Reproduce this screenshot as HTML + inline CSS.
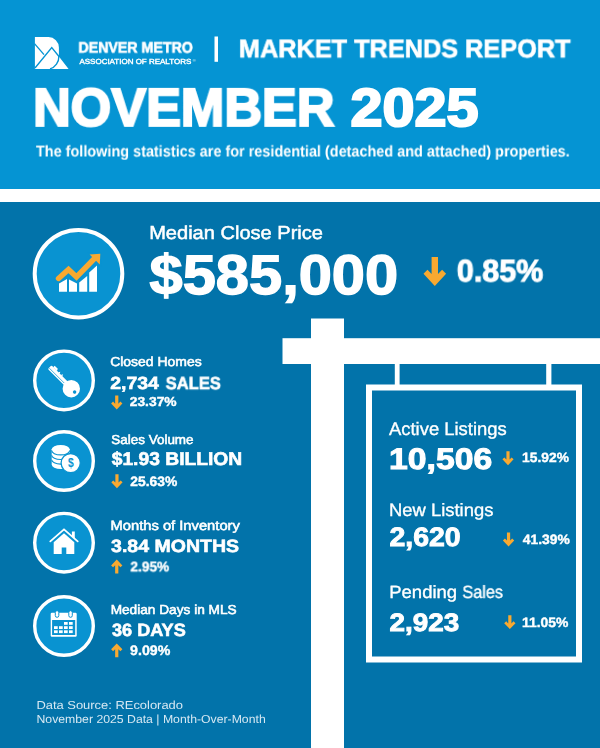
<!DOCTYPE html>
<html><head><meta charset="utf-8"><title>Market Trends Report</title>
<style>
html,body{margin:0;padding:0;}
body{width:600px;height:748px;position:relative;overflow:hidden;background:#0273aa;font-family:"Liberation Sans",sans-serif;}
.hdr{position:absolute;left:0;top:0;width:600px;height:189px;background:#0594d3;}
.band{position:absolute;left:0;top:189px;width:600px;height:13px;background:#fff;}
svg{position:absolute;left:0;top:0;}
.t{position:absolute;left:0;top:0;white-space:nowrap;line-height:1;color:#fff;transform-origin:0 0;will-change:transform;text-rendering:geometricPrecision;}
</style></head><body>
<div class="hdr"></div><div class="band"></div>
<svg width="600" height="748" viewBox="0 0 600 748">
<rect x="311" y="318.5" width="33" height="430" fill="#fff"/>
<rect x="282.5" y="338.2" width="318" height="25.8" fill="#fff"/>
<rect x="394.8" y="363" width="4.8" height="23" fill="#fff"/>
<rect x="546.2" y="363" width="5.2" height="23" fill="#fff"/>
<rect x="369" y="387.5" width="210" height="272" fill="none" stroke="#fff" stroke-width="6"/>
<circle cx="78.5" cy="273.7" r="43.8" fill="#0993d1" stroke="#fff" stroke-width="4.0"/>
<circle cx="64" cy="380.4" r="29.3" fill="#0993d1" stroke="#fff" stroke-width="3.4"/>
<circle cx="64" cy="461" r="29.3" fill="#0993d1" stroke="#fff" stroke-width="3.4"/>
<circle cx="64" cy="542.7" r="29.3" fill="#0993d1" stroke="#fff" stroke-width="3.4"/>
<circle cx="64" cy="626" r="29.3" fill="#0993d1" stroke="#fff" stroke-width="3.4"/>
<polygon transform="translate(423.30,257.00) scale(1.0000,1.0000)" points="8.3,0 14.7,0 14.7,17 18.8,12.7 22.8,16.7 11.5,29 0.2,16.7 4.2,12.7 8.3,17" fill="#f9a930"/>
<polygon transform="translate(111.00,395.50) scale(0.5000,0.4793)" points="8.3,0 14.7,0 14.7,17 18.8,12.7 22.8,16.7 11.5,29 0.2,16.7 4.2,12.7 8.3,17" fill="#f9a930"/>
<polygon transform="translate(111.20,474.30) scale(0.5000,0.4793)" points="8.3,0 14.7,0 14.7,17 18.8,12.7 22.8,16.7 11.5,29 0.2,16.7 4.2,12.7 8.3,17" fill="#f9a930"/>
<polygon transform="translate(111.00,573.40) scale(0.5000,-0.4759)" points="8.3,0 14.7,0 14.7,17 18.8,12.7 22.8,16.7 11.5,29 0.2,16.7 4.2,12.7 8.3,17" fill="#f9a930"/>
<polygon transform="translate(111.00,657.20) scale(0.5000,-0.4724)" points="8.3,0 14.7,0 14.7,17 18.8,12.7 22.8,16.7 11.5,29 0.2,16.7 4.2,12.7 8.3,17" fill="#f9a930"/>
<polygon transform="translate(502.30,451.30) scale(0.4957,0.4828)" points="8.3,0 14.7,0 14.7,17 18.8,12.7 22.8,16.7 11.5,29 0.2,16.7 4.2,12.7 8.3,17" fill="#f9a930"/>
<polygon transform="translate(502.80,532.40) scale(0.5000,0.4828)" points="8.3,0 14.7,0 14.7,17 18.8,12.7 22.8,16.7 11.5,29 0.2,16.7 4.2,12.7 8.3,17" fill="#f9a930"/>
<polygon transform="translate(504.10,615.30) scale(0.5000,0.4759)" points="8.3,0 14.7,0 14.7,17 18.8,12.7 22.8,16.7 11.5,29 0.2,16.7 4.2,12.7 8.3,17" fill="#f9a930"/>
<path d="M34.9,37.1H48.5A10.4,10.4 0 0 1 58.9,47.5V56.5L68.6,68.9H34.9Z" fill="#fff"/>
<g fill="none" stroke="#0594d3" stroke-width="1.35"><path d="M34.5,43.6L44,54.6"/><path d="M35,68L51.75,47.6L59.4,57"/><path d="M58.9,56A11.5,12.9 0 0 1 50,68.9"/></g>
<rect x="214.5" y="36.5" width="3.5" height="25.3" fill="#fff"/>
<g fill="#fff"><polygon points="59,291.8 59,283.5 67,279 67,291.8"/><polygon points="69,291.8 69,279.5 77,283.5 77,291.8"/><polygon points="79.2,291.8 79.2,282.5 87.2,276 87.2,291.8"/><polygon points="89.2,291.8 89.2,272.5 97,265.5 97,291.8"/></g>
<polyline points="58.5,278.5 68.5,269.5 76.5,277 94,259" fill="none" stroke="#0993d1" stroke-width="8.4" stroke-linecap="round" stroke-linejoin="miter"/>
<polygon points="87.5,252.8 101.9,252.1 101.4,267" fill="#0993d1"/>
<polyline points="58.5,278.5 68.5,269.5 76.5,277 94,259" fill="none" stroke="#f9a930" stroke-width="5.4" stroke-linecap="round" stroke-linejoin="miter"/>
<polygon points="89.6,254.4 100.3,253.7 99.8,264.6" fill="#f9a930"/>
<g transform="translate(71.3,388.7) rotate(-135)"><circle r="8.7" fill="#fff"/><rect x="0" y="-2.6" width="30.5" height="5.1" rx="1" fill="#fff"/><path d="M13,2.3h2l1,2l1.2,-2h1.6l1,2l1.2,-2h1.6l1,2.2h4.4v-2.2z" fill="#fff"/><line x1="9" y1="-1.0" x2="30" y2="-1.0" stroke="#0993d1" stroke-width="0.7"/><circle cx="-4.7" r="1.7" fill="#0993d1"/></g>
<g><path d="M51.7,449.3V464.6A9,4.3 0 0 0 69.7,464.6V449.3Z" fill="#fff"/><ellipse cx="60.7" cy="449.3" rx="9" ry="4.3" fill="#fff"/><g fill="none" stroke="#0993d1" stroke-width="1.1"><path d="M51.7,450.6A9,4.3 0 0 0 69.7,450.6"/><path d="M51.7,455.2A9,4.3 0 0 0 69.7,455.2"/><path d="M51.7,459.8A9,4.3 0 0 0 69.7,459.8"/></g><circle cx="70.7" cy="463.1" r="9.6" fill="#fff" stroke="#0993d1" stroke-width="1.3"/><text x="0" y="0" transform="translate(70.8,467.3) scale(0.82,1)" text-anchor="middle" font-family="Liberation Sans, sans-serif" font-weight="bold" font-size="12.6" fill="#0993d1">$</text></g>
<g transform="translate(0,0.4)"><polyline points="50.3,541 64,529 77.7,541" fill="none" stroke="#fff" stroke-width="1.8" stroke-linecap="round" stroke-linejoin="miter"/><polygon points="71.9,536 71.9,531 74.8,531 74.8,538.6" fill="#fff"/><path d="M64,532.8L74.3,541.8V553.7H66.3V547H61.7V553.7H53.7V541.8Z" fill="#fff"/></g>
<g><rect x="50.7" y="612.7" width="26" height="24" rx="1.2" fill="#fff"/><rect x="52.1" y="620" width="23.1" height="15" fill="#0993d1"/><rect x="64" y="622" width="3.7" height="2.8" fill="#fff"/><rect x="69" y="622" width="3.7" height="2.8" fill="#fff"/><rect x="54" y="626.2" width="3.7" height="2.8" fill="#fff"/><rect x="59" y="626.2" width="3.7" height="2.8" fill="#fff"/><rect x="64" y="626.2" width="3.7" height="2.8" fill="#fff"/><rect x="69" y="626.2" width="3.7" height="2.8" fill="#fff"/><rect x="54" y="630.3" width="3.7" height="2.8" fill="#fff"/><rect x="59" y="630.3" width="3.7" height="2.8" fill="#fff"/><rect x="64" y="630.3" width="3.7" height="2.8" fill="#fff"/><rect x="69" y="630.3" width="3.7" height="2.8" fill="#fff"/><rect x="55.3" y="610.7" width="3.5" height="6.6" rx="1.7" fill="#fff" stroke="#0993d1" stroke-width="1"/><rect x="68.8" y="610.7" width="3.5" height="6.6" rx="1.7" fill="#fff" stroke="#0993d1" stroke-width="1"/></g>
<text x="192.4" y="61.6" font-family="Liberation Sans, sans-serif" font-size="4.2" fill="#fff">&#174;</text>
</svg>
<div class="t" style="font-size:15.26px;font-weight:bold;-webkit-text-stroke:0.6px #fff;transform:translate(78.36px,40.58px) scaleX(0.9317);">DENVER METRO</div>
<div class="t" style="font-size:7.41px;-webkit-text-stroke:0.4px #fff;transform:translate(79.46px,57.85px) scaleX(1.0776);">ASSOCIATION OF REALTORS</div>
<div class="t" style="font-size:25.73px;font-weight:bold;-webkit-text-stroke:0.6px #fff;transform:translate(238.91px,37.34px) scaleX(0.9833);">MARKET TRENDS REPORT</div>
<div class="t" style="font-size:53.49px;font-weight:bold;-webkit-text-stroke:2.2px #fff;transform:translate(33.11px,81.86px) scaleX(0.9749);">NOVEMBER</div>
<div class="t" style="font-size:53.49px;font-weight:bold;-webkit-text-stroke:2.2px #fff;transform:translate(350.43px,81.83px) scaleX(1.0765);">2025</div>
<div class="t" style="font-size:15.70px;font-weight:bold;transform:translate(35.95px,144.46px) scaleX(0.9209);">The following statistics are for residential (detached and attached) properties.</div>
<div class="t" style="font-size:18.75px;-webkit-text-stroke:0.5px #fff;transform:translate(149.16px,224.41px) scaleX(1.0693);">Median Close Price</div>
<div class="t" style="font-size:55.81px;font-weight:bold;-webkit-text-stroke:1.4px #fff;transform:translate(149.50px,246.70px) scaleX(1.0685);">$585,000</div>
<div class="t" style="font-size:31.25px;font-weight:bold;-webkit-text-stroke:1.0px #fff;transform:translate(456.81px,255.41px) scaleX(0.9763);">0.85%</div>
<div class="t" style="font-size:13.01px;-webkit-text-stroke:0.55px #fff;transform:translate(110.14px,355.34px) scaleX(1.0745);">Closed Homes</div>
<div class="t" style="font-size:17.59px;font-weight:bold;-webkit-text-stroke:0.6px #fff;transform:translate(110.23px,375.23px) scaleX(1.1061);">2,734</div>
<div class="t" style="font-size:17.59px;font-weight:bold;-webkit-text-stroke:0.6px #fff;transform:translate(165.73px,375.13px) scaleX(0.9383);">SALES</div>
<div class="t" style="font-size:13.08px;font-weight:bold;-webkit-text-stroke:0.4px #fff;transform:translate(129.72px,395.43px) scaleX(1.0581);">23.37%</div>
<div class="t" style="font-size:13.01px;-webkit-text-stroke:0.55px #fff;transform:translate(111.25px,433.34px) scaleX(1.0355);">Sales Volume</div>
<div class="t" style="font-size:18.46px;font-weight:bold;-webkit-text-stroke:0.6px #fff;transform:translate(111.69px,450.47px) scaleX(1.0444);">$1.93 BILLION</div>
<div class="t" style="font-size:13.66px;font-weight:bold;-webkit-text-stroke:0.4px #fff;transform:translate(130.35px,475.02px) scaleX(1.0131);">25.63%</div>
<div class="t" style="font-size:13.30px;-webkit-text-stroke:0.55px #fff;transform:translate(110.50px,519.22px) scaleX(1.1078);">Months of Inventory</div>
<div class="t" style="font-size:17.73px;font-weight:bold;-webkit-text-stroke:0.6px #fff;transform:translate(111.08px,537.55px) scaleX(1.1014);">3.84 MONTHS</div>
<div class="t" style="font-size:13.81px;font-weight:bold;-webkit-text-stroke:0.4px #fff;transform:translate(130.43px,560.32px) scaleX(0.9919);">2.95%</div>
<div class="t" style="font-size:13.01px;-webkit-text-stroke:0.55px #fff;transform:translate(110.64px,602.56px) scaleX(1.0511);">Median Days in MLS</div>
<div class="t" style="font-size:17.73px;font-weight:bold;-webkit-text-stroke:0.6px #fff;transform:translate(112.00px,622.04px) scaleX(1.0210);">36 DAYS</div>
<div class="t" style="font-size:13.81px;font-weight:bold;-webkit-text-stroke:0.4px #fff;transform:translate(130.09px,643.77px) scaleX(1.0259);">9.09%</div>
<div class="t" style="font-size:18.10px;-webkit-text-stroke:0.35px #fff;transform:translate(388.98px,420.29px) scaleX(1.0181);">Active Listings</div>
<div class="t" style="font-size:29.65px;font-weight:bold;-webkit-text-stroke:1.0px #fff;transform:translate(389.05px,444.66px) scaleX(1.1373);">10,506</div>
<div class="t" style="font-size:13.37px;font-weight:bold;-webkit-text-stroke:0.4px #fff;transform:translate(522.12px,451.12px) scaleX(1.0327);">15.92%</div>
<div class="t" style="font-size:17.81px;-webkit-text-stroke:0.35px #fff;transform:translate(389.08px,502.28px) scaleX(1.0336);">New Listings</div>
<div class="t" style="font-size:26.60px;font-weight:bold;-webkit-text-stroke:0.9px #fff;transform:translate(389.46px,523.63px) scaleX(1.0705);">2,620</div>
<div class="t" style="font-size:13.52px;font-weight:bold;-webkit-text-stroke:0.4px #fff;transform:translate(522.81px,533.00px) scaleX(1.0246);">41.39%</div>
<div class="t" style="font-size:17.66px;-webkit-text-stroke:0.35px #fff;transform:translate(389.21px,584.23px) scaleX(1.0486);">Pending</div>
<div class="t" style="font-size:17.66px;-webkit-text-stroke:0.35px #fff;transform:translate(462.39px,583.90px) scaleX(0.9208);">Sales</div>
<div class="t" style="font-size:25.15px;font-weight:bold;-webkit-text-stroke:0.9px #fff;transform:translate(389.52px,610.68px) scaleX(1.1072);">2,923</div>
<div class="t" style="font-size:13.52px;font-weight:bold;-webkit-text-stroke:0.4px #fff;transform:translate(521.99px,615.99px) scaleX(1.0283);">11.05%</div>
<div class="t" style="font-size:11.63px;color:#d6e8f3;transform:translate(36.41px,700.14px) scaleX(1.1119);">Data Source: REcolorado</div>
<div class="t" style="font-size:11.63px;color:#d6e8f3;transform:translate(36.47px,714.11px) scaleX(1.0538);">November 2025 Data | Month-Over-Month</div>
</body></html>
